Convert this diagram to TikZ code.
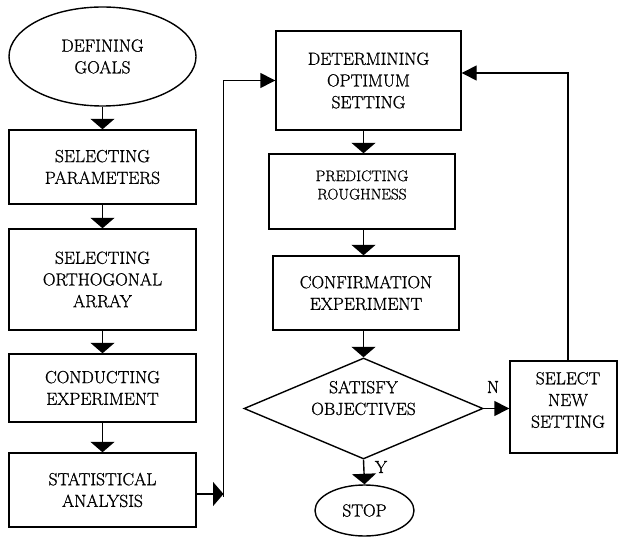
\documentclass[tikz,border=0pt]{standalone}
\usepackage{fontspec}
\newfontfamily\lmfont{Latin Modern Roman}[FakeBold=1]
\usetikzlibrary{shapes.geometric,arrows.meta}
\begin{document}
\begin{tikzpicture}[x=1pt,y=-1pt,
  line width=1.4pt,
  every node/.style={font=\lmfont\fontsize{17.5}{21.7}\selectfont, align=center, inner sep=0pt},
  box/.style={draw, rectangle},
  varr/.style={-{Triangle[length=10.5pt,width=24pt]}},
  harr/.style={-{Triangle[length=15pt,width=15pt]}},
]
\useasboundingbox (0,0) rectangle (618,537);

% left column
\node[draw, ellipse, minimum width=187pt, minimum height=99pt] (goals) at (102.5,56.5) {DEFINING\\GOALS};
\node[box, minimum width=187pt, minimum height=74pt] (param) at (102.5,167) {SELECTING\\PARAMETERS};
\node[box, minimum width=187pt, minimum height=101pt] (ortho) at (102.5,279.5) {SELECTING\\ORTHOGONAL\\ARRAY};
\node[box, minimum width=187pt, minimum height=68pt] (cond) at (102.5,388) {CONDUCTING\\EXPERIMENT};
\node[box, minimum width=187pt, minimum height=74pt] (stat) at (102.5,490) {STATISTICAL\\ANALYSIS};

% right column
\node[box, minimum width=185pt, minimum height=99pt] (det) at (368.5,80.5) {DETERMINING\\OPTIMUM\\SETTING};
\node[box, minimum width=186pt, minimum height=75pt] (pred) at (362,191.5) {};
\node[font=\lmfont\fontsize{15.3}{18.3}\selectfont] (predt) at (362,185) {PREDICTING\\ROUGHNESS};
\node[box, minimum width=186pt, minimum height=74pt] (conf) at (366,293) {CONFIRMATION\\EXPERIMENT};
\node[draw, diamond, minimum width=239pt, minimum height=101pt] (dia) at (363.5,408.5) {};
\node (diat) at (363.5,398) {SATISFY\\OBJECTIVES};
\node[box, minimum width=107pt, minimum height=92pt] (sel) at (563.5,407) {};
\node (selt) at (568,400) {SELECT\\NEW\\SETTING};
\node[draw, ellipse, minimum width=99pt, minimum height=51pt] (stop) at (364.5,510.5) {STOP};

\node (nlab) at (493,387) {N};
\node (ylab) at (381,467) {Y};

% connectors left
\draw[varr] (goals) -- (param);
\draw[varr] (param) -- (ortho);
\draw[varr] (ortho) -- (cond);
\draw[varr] (cond) -- (stat);
\coordinate (v1) at (223.5,494);
\coordinate (v0) at (223.5,497);
\draw[varr] (v1 -| stat.east) -- (v1);
\draw[harr] (v0) |- (det.west);

% connectors right
\draw[varr] (det.south -| dia) -- (pred.north -| dia);
\draw[varr] (pred.south -| dia) -- (conf.north -| dia);
\draw[varr] (conf.south -| dia) -- (dia.north);
\draw[varr] (dia.south) -- (stop.north);
\draw[harr] (dia.east) -- (sel.west |- dia.east);
\coordinate (c2) at (568,73);
\draw[harr] (sel.north -| c2) -- (c2) -- (det.east |- c2);
\end{tikzpicture}
\end{document}
